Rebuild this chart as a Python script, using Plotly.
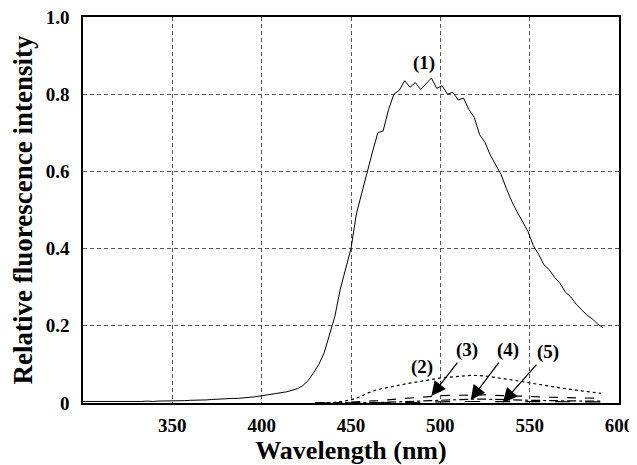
import plotly.graph_objects as go

# ---- data ----
wavelength_1 = list(range(300, 592, 3))
intensity_1 = [
    0.004, 0.004, 0.003, 0.004, 0.004, 0.003, 0.004, 0.004, 0.003, 0.004,
    0.004, 0.004, 0.005, 0.004, 0.005, 0.005, 0.005, 0.006, 0.006, 0.006,
    0.007, 0.007, 0.008, 0.008, 0.009, 0.010, 0.010, 0.011, 0.012, 0.012,
    0.013, 0.014, 0.016, 0.018, 0.020, 0.022, 0.024, 0.026, 0.029, 0.033,
    0.037, 0.045, 0.058, 0.078, 0.100, 0.130, 0.175, 0.225, 0.295, 0.345,
    0.400, 0.490, 0.545, 0.600, 0.650, 0.700, 0.705, 0.760, 0.800, 0.810,
    0.835, 0.818, 0.830, 0.812, 0.828, 0.842, 0.815, 0.822, 0.800, 0.805,
    0.785, 0.790, 0.760, 0.740, 0.695, 0.675, 0.642, 0.615, 0.592, 0.555,
    0.522, 0.495, 0.468, 0.445, 0.408, 0.385, 0.358, 0.345, 0.325, 0.310,
    0.287, 0.275, 0.256, 0.242, 0.228, 0.218, 0.205, 0.195, 0.178,
][:len(wavelength_1)]

wavelength_low = [430, 440, 445, 450, 455, 460, 465, 470, 475, 480, 485, 490,
                  495, 500, 510, 518, 525, 530, 540, 550, 560, 570, 580, 590]
intensity_2 = [0.000, 0.001, 0.004, 0.008, 0.016, 0.027, 0.035, 0.040, 0.045,
               0.049, 0.053, 0.057, 0.062, 0.065, 0.069, 0.072, 0.070, 0.067,
               0.060, 0.052, 0.044, 0.037, 0.031, 0.025]
intensity_3 = [0.000, 0.000, 0.001, 0.002, 0.003, 0.005, 0.006, 0.008, 0.010,
               0.012, 0.014, 0.016, 0.018, 0.019, 0.020, 0.021, 0.021, 0.020,
               0.019, 0.017, 0.015, 0.014, 0.013, 0.012]
intensity_4 = [0.000, 0.000, 0.000, 0.000, 0.000, 0.000, 0.001, 0.002, 0.003,
               0.004, 0.005, 0.006, 0.007, 0.008, 0.009, 0.010, 0.010, 0.009,
               0.008, 0.007, 0.006, 0.006, 0.005, 0.005]
intensity_5 = [0.000, 0.000, 0.000, 0.000, 0.000, 0.000, 0.000, 0.000, 0.000,
               0.001, 0.001, 0.002, 0.002, 0.003, 0.004, 0.004, 0.004, 0.004,
               0.004, 0.003, 0.003, 0.003, 0.003, 0.003]

x_ticks = [350, 400, 450, 500, 550, 600]
y_ticks = [0, 0.2, 0.4, 0.6, 0.8, 1.0]
y_tick_labels = ["0", "0.2", "0.4", "0.6", "0.8", "1.0"]

# label positions (text) and arrow targets, in data units
curve_labels = ["(1)", "(2)", "(3)", "(4)", "(5)"]
label_x = [491, 490, 515, 538, 560]
label_y = [0.882, 0.093, 0.137, 0.137, 0.132]
arrow_x = [None, None, 495, 517, 535]
arrow_y = [None, None, 0.018, 0.008, 0.001]

FONT = "Liberation Serif"

fig = go.Figure()
fig.add_trace(go.Scatter(x=wavelength_1, y=intensity_1, mode="lines",
                         line=dict(color="black", width=1)))
fig.add_trace(go.Scatter(x=wavelength_low, y=intensity_2, mode="lines",
                         line=dict(color="black", width=1.2, dash="dot")))
fig.add_trace(go.Scatter(x=wavelength_low, y=intensity_3, mode="lines",
                         line=dict(color="black", width=1.2, dash="dash")))
fig.add_trace(go.Scatter(x=wavelength_low, y=intensity_4, mode="lines",
                         line=dict(color="black", width=1.2, dash="dashdot")))
fig.add_trace(go.Scatter(x=wavelength_low, y=intensity_5, mode="lines",
                         line=dict(color="black", width=1.2, dash="longdash")))

for i, t in enumerate(curve_labels):
    if arrow_x[i] is None:
        fig.add_annotation(x=label_x[i], y=label_y[i], text=t, showarrow=False,
                           font=dict(family=FONT, size=19, color="black", weight="bold"))
    else:
        fig.add_annotation(x=arrow_x[i], y=arrow_y[i], ax=label_x[i], ay=label_y[i],
                           axref="x", ayref="y", text=t, showarrow=True,
                           arrowhead=2, arrowsize=2.4, arrowwidth=1.2, arrowcolor="black",
                           font=dict(family=FONT, size=19, color="black", weight="bold"))

axis_common = dict(showline=True, linecolor="black", linewidth=1.5, mirror=True,
                   showgrid=True, gridcolor="#555555", gridwidth=1, griddash="4px,3px",
                   zeroline=False, ticks="", ticklabeloverflow="allow",
                   tickfont=dict(family=FONT, size=19, color="black", weight="bold"))

fig.update_xaxes(range=[300, 600], tickvals=x_ticks, ticklabelstandoff=4,
                 title=dict(text="Wavelength (nm)", standoff=0,
                            font=dict(family=FONT, size=26, color="black", weight="bold")),
                 **axis_common)
fig.update_yaxes(range=[0, 1.0], tickvals=y_ticks, ticktext=y_tick_labels,
                 ticklabelstandoff=8,
                 title=dict(text="Relative fluorescence intensity", standoff=10,
                            font=dict(family=FONT, size=27, color="black", weight="bold")),
                 **axis_common)

# page body has an 8px margin, so the figure is sized/offset to compensate
fig.update_layout(width=629, height=457, showlegend=False,
                  plot_bgcolor="white", paper_bgcolor="white",
                  margin=dict(l=75, r=18, t=9, b=62, autoexpand=False))

fig.write_html("out.html")
